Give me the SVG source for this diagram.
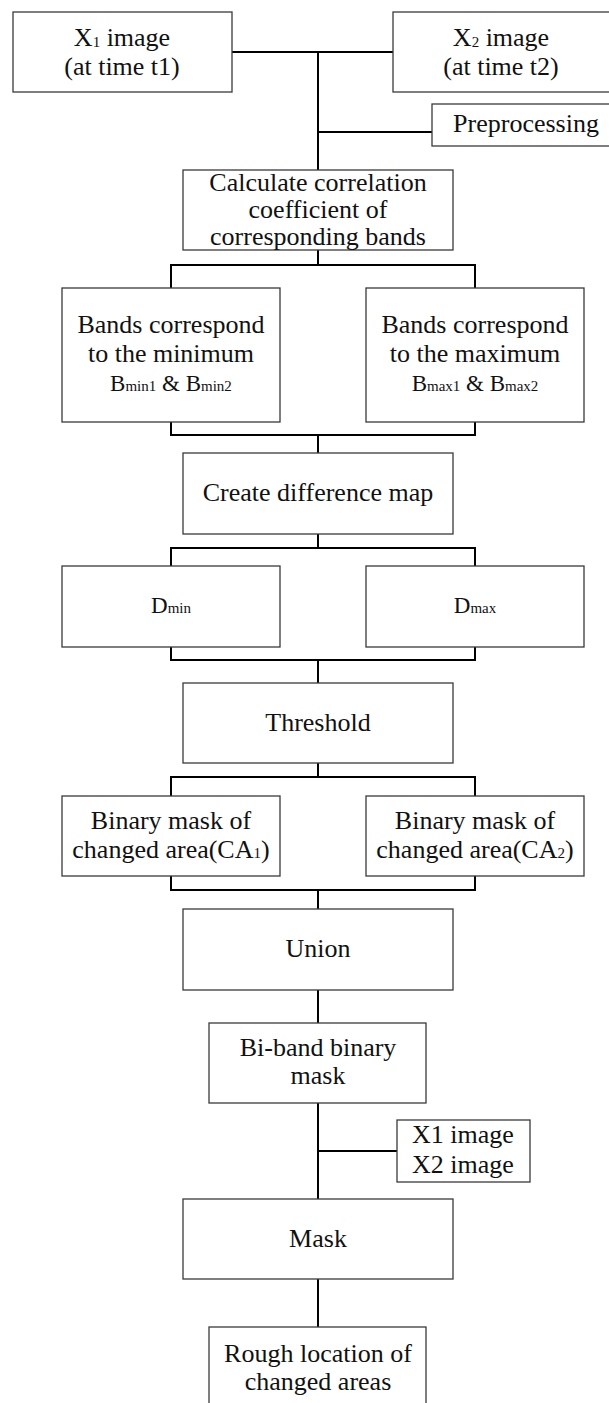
<svg xmlns="http://www.w3.org/2000/svg" width="609" height="1403" viewBox="0 0 609 1403">
<style>
.box{fill:#fff;stroke:#3a3a3a;stroke-width:1.3}
.t{font-family:"Liberation Serif","Times New Roman",serif;font-size:26px;fill:#111;text-anchor:middle}
.s{font-size:23px}
.sub{font-size:15px}
.conn{fill:none;stroke:#000;stroke-width:2}
</style>
<rect width="609" height="1403" fill="#fff"/>
<g id="connectors" class="conn">
<path d="M232 52H393M318 52V170M318 132H432"/>
<path d="M318 250V265M171 265H475M171 264V288M475 264V288"/>
<path d="M171 422V435M475 422V435M170 435H476M318 435V453"/>
<path d="M318 534V548M171 548H475M171 547V566M475 547V566"/>
<path d="M171 647V660M475 647V660M170 660H476M318 660V683"/>
<path d="M318 763V777M171 777H475M171 776V796M475 776V796"/>
<path d="M171 876V890M475 876V890M170 890H476M318 890V909"/>
<path d="M318 990V1023M318 1103V1199M318 1151H397M318 1279V1327"/>
</g>
<g id="x1">
<rect class="box" x="13" y="12" width="219" height="80"/>
<text class="t" x="122" y="46">X<tspan class="sub" dy="1">1</tspan><tspan dy="-1"> image</tspan></text>
<text class="t" x="122" y="75">(at time t1)</text>
</g>
<g id="x2">
<rect class="box" x="393" y="12" width="222" height="80"/>
<text class="t" x="501" y="46">X<tspan class="sub" dy="1">2</tspan><tspan dy="-1"> image</tspan></text>
<text class="t" x="501" y="75">(at time t2)</text>
</g>
<g id="preprocessing">
<rect class="box" x="432" y="104" width="183" height="42"/>
<text class="t" x="526" y="132">Preprocessing</text>
</g>
<g id="calculate">
<rect class="box" x="183" y="170" width="270" height="80"/>
<text class="t" x="318" y="191">Calculate correlation</text>
<text class="t" x="318" y="218">coefficient of</text>
<text class="t" x="318" y="245">corresponding bands</text>
</g>
<g id="bands-min">
<rect class="box" x="62" y="288" width="218" height="134"/>
<text class="t" x="171" y="333">Bands correspond</text>
<text class="t" x="171" y="362">to the minimum</text>
<text class="t s" x="171" y="391">B<tspan class="sub">min1</tspan> &amp; B<tspan class="sub">min2</tspan></text>
</g>
<g id="bands-max">
<rect class="box" x="366" y="288" width="218" height="134"/>
<text class="t" x="475" y="333">Bands correspond</text>
<text class="t" x="475" y="362">to the maximum</text>
<text class="t s" x="475" y="391">B<tspan class="sub">max1</tspan> &amp; B<tspan class="sub">max2</tspan></text>
</g>
<g id="difference">
<rect class="box" x="183" y="453" width="270" height="81"/>
<text class="t" x="318" y="501">Create difference map</text>
</g>
<g id="dmin">
<rect class="box" x="62" y="566" width="218" height="81"/>
<text class="t s" x="171" y="613">D<tspan class="sub">min</tspan></text>
</g>
<g id="dmax">
<rect class="box" x="366" y="566" width="218" height="81"/>
<text class="t s" x="475" y="613">D<tspan class="sub">max</tspan></text>
</g>
<g id="threshold">
<rect class="box" x="183" y="683" width="270" height="80"/>
<text class="t" x="318" y="731">Threshold</text>
</g>
<g id="ca1">
<rect class="box" x="62" y="796" width="218" height="80"/>
<text class="t" x="171" y="829">Binary mask of</text>
<text class="t" x="171" y="858">changed area(CA<tspan class="sub">1</tspan>)</text>
</g>
<g id="ca2">
<rect class="box" x="366" y="796" width="218" height="80"/>
<text class="t" x="475" y="829">Binary mask of</text>
<text class="t" x="475" y="858">changed area(CA<tspan class="sub">2</tspan>)</text>
</g>
<g id="union">
<rect class="box" x="183" y="909" width="270" height="81"/>
<text class="t" x="318" y="957">Union</text>
</g>
<g id="biband">
<rect class="box" x="209" y="1023" width="217" height="80"/>
<text class="t" x="318" y="1056">Bi-band binary</text>
<text class="t" x="318" y="1084">mask</text>
</g>
<g id="images">
<rect class="box" x="397" y="1120" width="133" height="62"/>
<text class="t" x="463" y="1143">X1 image</text>
<text class="t" x="463" y="1173">X2 image</text>
</g>
<g id="mask">
<rect class="box" x="183" y="1199" width="270" height="80"/>
<text class="t" x="318" y="1247">Mask</text>
</g>
<g id="rough">
<rect class="box" x="209" y="1327" width="217" height="90"/>
<text class="t" x="318" y="1362">Rough location of</text>
<text class="t" x="318" y="1390">changed areas</text>
</g>
</svg>
